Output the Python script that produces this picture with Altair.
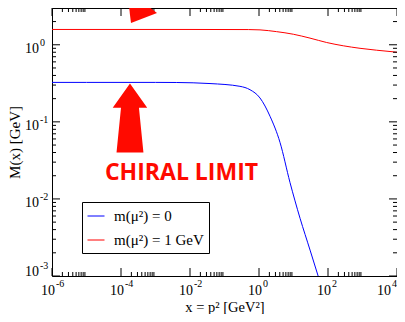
import altair as alt
import pandas as pd

# ---------------- data ----------------
blue_label = "m(μ²) = 0"
red_label = "m(μ²) = 1 GeV"

blue_x = [1e-6, 1e-5, 1e-4, 1e-3, 4e-3, 0.038, 0.28, 0.55, 1.07, 2.09, 4.07, 7.9, 15.5, 30.2, 58.9]
blue_m = [0.325, 0.325, 0.325, 0.325, 0.324, 0.314, 0.289, 0.261, 0.204, 0.118, 0.054, 0.0164, 0.0056, 0.00217, 0.00083]

red_x = [1e-6, 1e-4, 1e-2, 0.5, 1.07, 3.24, 9.9, 30.1, 91.6, 277, 848, 2570, 7760, 1e4]
red_m = [1.58, 1.58, 1.58, 1.575, 1.56, 1.48, 1.37, 1.22, 1.07, 0.97, 0.90, 0.85, 0.81, 0.80]

x_major_exp = [-6, -4, -2, 0, 2, 4]
y_major_exp = [-3, -2, -1, 0]
minor_mult = [2, 3, 4, 5, 6, 7, 8, 9]
tick_base = "10"

annot_text = "CHIRAL LIMIT"
annot_x = [5.68e-3]
annot_y = [0.0174]
up_arrow_x = [1.82e-4]
up_arrow_y = [0.112]
down_arrow_x = [4.06e-4]
down_arrow_y = [3.14]

# ---------------- layout ----------------
W, H = 345, 268
X_DOM = [1e-6, 1e4]
Y_DOM = [1e-3, 3.0]
FONT = "Liberation Serif"
MAJ, MIN = 8, 4

xs = alt.Scale(type="log", domain=X_DOM, nice=False)
ys = alt.Scale(type="log", domain=Y_DOM, nice=False)

x_major = [10.0 ** e for e in x_major_exp]
x_minor = [k * 10.0 ** e for e in x_major_exp[:-1] for k in minor_mult]
y_major = [10.0 ** e for e in y_major_exp]
y_minor = [v for e in y_major_exp for k in minor_mult
           for v in [k * 10.0 ** e] if v <= Y_DOM[1]]

xaxis = alt.Axis(
    values=x_major, labels=False, ticks=False, domain=False, grid=False,
    title="x = p² [GeV²]", titleFont=FONT, titleFontSize=14.5, titleFontWeight="normal",
    titleColor="black", titleY=35, titleBaseline="alphabetic")
yaxis = alt.Axis(
    values=y_major, labels=False, ticks=False, domain=False, grid=False,
    title="M(x) [GeV]", titleFont=FONT, titleFontSize=15, titleFontWeight="normal",
    titleColor="black", titleX=-33, titleY=H / 2, titleBaseline="alphabetic")

X = lambda f: alt.X(f, scale=xs, axis=xaxis)
Y = lambda f: alt.Y(f, scale=ys, axis=yaxis)

lines_df = pd.concat([
    pd.DataFrame({"x": blue_x, "m": blue_m, "series": blue_label, "o": range(len(blue_x))}),
    pd.DataFrame({"x": red_x, "m": red_m, "series": red_label, "o": range(len(red_x))}),
])

lines = alt.Chart(lines_df).mark_line(strokeWidth=1, clip=True, interpolate="monotone").encode(
    x=X("x:Q"),
    y=Y("m:Q"),
    color=alt.Color("series:N", scale=alt.Scale(domain=[blue_label, red_label], range=["#0000ff", "#ff0000"]),
                    legend=alt.Legend(title=None, orient="none", legendX=30, legendY=194,
                                      symbolType="stroke", symbolSize=289, symbolStrokeWidth=1,
                                      labelFont=FONT, labelFontSize=15, labelColor="black",
                                      labelOffset=9, rowPadding=7, padding=5,
                                      strokeColor="black", fillColor="white")),
    order="o:Q",
)


def xticks(vals, length, top):
    df = pd.DataFrame({"v": vals})
    y0, y1 = (0, length) if top else (H, H - length)
    return alt.Chart(df).mark_rule(color="black", strokeWidth=1).encode(
        x=X("v:Q"), y=alt.value(y0), y2=alt.value(y1))


def yticks(vals, length, right):
    df = pd.DataFrame({"v": vals})
    x0, x1 = (W, W - length) if right else (0, length)
    return alt.Chart(df).mark_rule(color="black", strokeWidth=1).encode(
        y=Y("v:Q"), x=alt.value(x0), x2=alt.value(x1))


ticks = [
    xticks(x_major, MAJ, False), xticks(x_minor, MIN, False),
    xticks(x_major, MAJ, True), xticks(x_minor, MIN, True),
    yticks(y_major, MAJ, False), yticks(y_minor, MIN, False),
    yticks(y_major, MAJ, True), yticks(y_minor, MIN, True),
]


def xlabels(exps, dx):
    df = pd.DataFrame({"v": [10.0 ** e for e in exps], "e": [str(e) for e in exps], "b": tick_base})
    base = alt.Chart(df)
    ten = base.mark_text(font=FONT, fontSize=14, color="black", align="right",
                         baseline="alphabetic", dx=dx).encode(
        x=X("v:Q"), y=alt.value(H + 19), text="b:N")
    ex = base.mark_text(font=FONT, fontSize=10, color="black", align="left",
                        baseline="alphabetic", dx=dx + 1).encode(
        x=X("v:Q"), y=alt.value(H + 11), text="e:N")
    return [ten, ex]


def ylabels(exps, dy):
    df = pd.DataFrame({"v": [10.0 ** e for e in exps], "e": [str(e) for e in exps], "b": tick_base})
    base = alt.Chart(df)
    ten = base.mark_text(font=FONT, fontSize=14, color="black", align="right",
                         baseline="alphabetic", dy=dy).encode(
        x=alt.value(-13), y=Y("v:Q"), text="b:N")
    ex = base.mark_text(font=FONT, fontSize=10, color="black", align="left",
                        baseline="alphabetic", dy=dy - 7).encode(
        x=alt.value(-12), y=Y("v:Q"), text="e:N")
    return [ten, ex]


labels = (xlabels(x_major_exp[:-1], 3) + xlabels(x_major_exp[-1:], -6)
          + ylabels(y_major_exp[1:], 8) + ylabels(y_major_exp[:1], 0))

up_path = "M0,-1L0.5,-0.3L0.26,-0.3L0.39,1L-0.39,1L-0.26,-0.3L-0.5,-0.3Z"
up_arrow = alt.Chart(pd.DataFrame({"x": up_arrow_x, "m": up_arrow_y})).mark_point(
    shape=up_path, filled=True, color="#ff0a00", opacity=1, size=4761, strokeWidth=0).encode(
    x=X("x:Q"), y=Y("m:Q"))

down_path = "M-0.55,0.825L0.75,0.325L-0.75,-0.825Z"
down_arrow = alt.Chart(pd.DataFrame({"x": down_arrow_x, "m": down_arrow_y})).mark_point(
    shape=down_path, filled=True, color="#ff0a00", opacity=1, size=1600, strokeWidth=0).encode(
    x=X("x:Q"), y=Y("m:Q"))

text = alt.Chart(pd.DataFrame({"x": annot_x, "m": annot_y, "t": [annot_text]})).mark_text(
    font="Open Sans", fontSize=23, fontWeight="bold", color="#ff0a00", align="center",
    baseline="alphabetic").encode(
    x=X("x:Q"), y=Y("m:Q"), text="t:N")

chart = alt.layer(lines, *ticks, *labels, up_arrow, down_arrow, text).properties(
    width=W, height=H,
    padding={"left": 44, "top": 0, "right": 0, "bottom": 38},
    autosize=alt.AutoSizeParams(type="none"),
    background="white",
).configure_view(stroke="black", strokeWidth=1)

chart.save("out.html", embed_options={"renderer": "svg", "actions": False})
